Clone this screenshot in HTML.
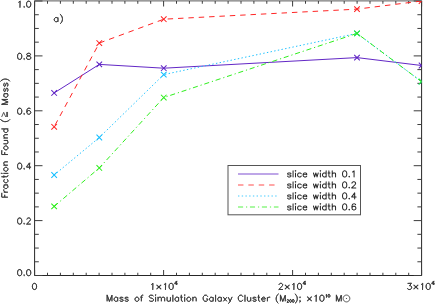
<!DOCTYPE html>
<html><head><meta charset="utf-8"><title>plot</title>
<style>html,body{margin:0;padding:0;background:#fff;font-family:"Liberation Sans",sans-serif}svg{display:block}</style>
</head><body>
<svg width="436" height="304" viewBox="0 0 436 304">
<rect width="436" height="304" fill="#fff"/>
<g stroke="#262626" stroke-width="1" fill="none" stroke-linecap="square">
<path d="M34.60,1V275.50H421.60V1" stroke-linecap="butt"/>
<rect x="34.10" y="0" width="388.00" height="1" fill="#9a9a9a" stroke="none"/>
<rect x="34.10" y="1" width="388.00" height="1" fill="#bdbdbd" stroke="none"/>
<path d="M34.60,275.50v-5.50M34.60,1.00v5.50M47.50,275.50v-2.75M47.50,1.00v2.75M60.40,275.50v-2.75M60.40,1.00v2.75M73.30,275.50v-2.75M73.30,1.00v2.75M86.20,275.50v-2.75M86.20,1.00v2.75M99.10,275.50v-2.75M99.10,1.00v2.75M112.00,275.50v-2.75M112.00,1.00v2.75M124.90,275.50v-2.75M124.90,1.00v2.75M137.80,275.50v-2.75M137.80,1.00v2.75M150.70,275.50v-2.75M150.70,1.00v2.75M163.60,275.50v-5.50M163.60,1.00v5.50M176.50,275.50v-2.75M176.50,1.00v2.75M189.40,275.50v-2.75M189.40,1.00v2.75M202.30,275.50v-2.75M202.30,1.00v2.75M215.20,275.50v-2.75M215.20,1.00v2.75M228.10,275.50v-2.75M228.10,1.00v2.75M241.00,275.50v-2.75M241.00,1.00v2.75M253.90,275.50v-2.75M253.90,1.00v2.75M266.80,275.50v-2.75M266.80,1.00v2.75M279.70,275.50v-2.75M279.70,1.00v2.75M292.60,275.50v-5.50M292.60,1.00v5.50M305.50,275.50v-2.75M305.50,1.00v2.75M318.40,275.50v-2.75M318.40,1.00v2.75M331.30,275.50v-2.75M331.30,1.00v2.75M344.20,275.50v-2.75M344.20,1.00v2.75M357.10,275.50v-2.75M357.10,1.00v2.75M370.00,275.50v-2.75M370.00,1.00v2.75M382.90,275.50v-2.75M382.90,1.00v2.75M395.80,275.50v-2.75M395.80,1.00v2.75M408.70,275.50v-2.75M408.70,1.00v2.75M421.60,275.50v-5.50M421.60,1.00v5.50M34.60,275.50h7.90M421.60,275.50h-7.90M34.60,261.77h4.20M421.60,261.77h-4.20M34.60,248.05h4.20M421.60,248.05h-4.20M34.60,234.32h4.20M421.60,234.32h-4.20M34.60,220.60h7.90M421.60,220.60h-7.90M34.60,206.88h4.20M421.60,206.88h-4.20M34.60,193.15h4.20M421.60,193.15h-4.20M34.60,179.43h4.20M421.60,179.43h-4.20M34.60,165.70h7.90M421.60,165.70h-7.90M34.60,151.97h4.20M421.60,151.97h-4.20M34.60,138.25h4.20M421.60,138.25h-4.20M34.60,124.52h4.20M421.60,124.52h-4.20M34.60,110.80h7.90M421.60,110.80h-7.90M34.60,97.07h4.20M421.60,97.07h-4.20M34.60,83.35h4.20M421.60,83.35h-4.20M34.60,69.62h4.20M421.60,69.62h-4.20M34.60,55.90h7.90M421.60,55.90h-7.90M34.60,42.17h4.20M421.60,42.17h-4.20M34.60,28.45h4.20M421.60,28.45h-4.20M34.60,14.72h4.20M421.60,14.72h-4.20M34.60,1.00h7.90M421.60,1.00h-7.90" stroke-linecap="butt" stroke="#3c3c3c"/>
</g>
<clipPath id="pc"><rect x="34.60" y="1.00" width="387.00" height="274.50"/></clipPath>
<g clip-path="url(#pc)">
<line x1="54.15" y1="92.95" x2="99.30" y2="64.40" stroke="#5e22c4" stroke-width="0.98"/>
<line x1="99.30" y1="64.40" x2="163.75" y2="68.20" stroke="#5e22c4" stroke-width="0.98"/>
<line x1="163.75" y1="68.20" x2="357.00" y2="57.60" stroke="#5e22c4" stroke-width="0.98"/>
<line x1="357.00" y1="57.60" x2="421.60" y2="65.50" stroke="#5e22c4" stroke-width="0.98"/>
<path d="M51.35,90.15l5.60,5.60M51.35,95.75l5.60,-5.60M96.50,61.60l5.60,5.60M96.50,67.20l5.60,-5.60M160.95,65.40l5.60,5.60M160.95,71.00l5.60,-5.60M354.20,54.80l5.60,5.60M354.20,60.40l5.60,-5.60M418.80,62.70l5.60,5.60M418.80,68.30l5.60,-5.60" fill="none" stroke="#5e22c4" stroke-width="1.05"/>
<line x1="54.15" y1="126.80" x2="99.30" y2="43.05" stroke="#ff2020" stroke-width="0.98" stroke-dasharray="5.45,4.92" stroke-dashoffset="8.50"/>
<line x1="99.30" y1="43.05" x2="163.75" y2="19.20" stroke="#ff2020" stroke-width="0.98" stroke-dasharray="5.45,4.92" stroke-dashoffset="10.32"/>
<line x1="163.75" y1="19.20" x2="357.00" y2="9.15" stroke="#ff2020" stroke-width="0.98" stroke-dasharray="5.45,4.92" stroke-dashoffset="6.45"/>
<line x1="357.00" y1="9.15" x2="421.60" y2="1.00" stroke="#ff2020" stroke-width="0.98" stroke-dasharray="5.45,4.92" stroke-dashoffset="2.93"/>
<path d="M51.35,124.00l5.60,5.60M51.35,129.60l5.60,-5.60M96.50,40.25l5.60,5.60M96.50,45.85l5.60,-5.60M160.95,16.40l5.60,5.60M160.95,22.00l5.60,-5.60M354.20,6.35l5.60,5.60M354.20,11.95l5.60,-5.60M418.80,-1.80l5.60,5.60M418.80,3.80l5.60,-5.60" fill="none" stroke="#ff2020" stroke-width="1.05"/>
<line x1="54.15" y1="175.00" x2="99.30" y2="137.50" stroke="#14beff" stroke-width="0.98" stroke-dasharray="1.4,2.32" stroke-dashoffset="0.00"/>
<line x1="99.30" y1="137.50" x2="163.75" y2="74.60" stroke="#14beff" stroke-width="0.98" stroke-dasharray="1.4,2.32" stroke-dashoffset="0.57"/>
<line x1="163.75" y1="74.60" x2="357.00" y2="33.40" stroke="#14beff" stroke-width="0.98" stroke-dasharray="1.4,2.32" stroke-dashoffset="2.40"/>
<line x1="357.00" y1="33.40" x2="421.60" y2="81.70" stroke="#14beff" stroke-width="0.98" stroke-dasharray="1.4,2.32" stroke-dashoffset="1.20"/>
<path d="M51.35,172.20l5.60,5.60M51.35,177.80l5.60,-5.60M96.50,134.70l5.60,5.60M96.50,140.30l5.60,-5.60M160.95,71.80l5.60,5.60M160.95,77.40l5.60,-5.60M354.20,30.60l5.60,5.60M354.20,36.20l5.60,-5.60M418.80,78.90l5.60,5.60M418.80,84.50l5.60,-5.60" fill="none" stroke="#14beff" stroke-width="1.05"/>
<line x1="54.15" y1="206.40" x2="99.30" y2="167.95" stroke="#2aee18" stroke-width="0.98" stroke-dasharray="5.1,2.9,1.2,2.76" stroke-dashoffset="0.00"/>
<line x1="99.30" y1="167.95" x2="163.75" y2="97.55" stroke="#2aee18" stroke-width="0.98" stroke-dasharray="5.1,2.9,1.2,2.76" stroke-dashoffset="1.20"/>
<line x1="163.75" y1="97.55" x2="357.00" y2="33.40" stroke="#2aee18" stroke-width="0.98" stroke-dasharray="5.1,2.9,1.2,2.76" stroke-dashoffset="5.13"/>
<line x1="357.00" y1="33.40" x2="421.60" y2="81.70" stroke="#2aee18" stroke-width="0.98" stroke-dasharray="5.1,2.9,1.2,2.76" stroke-dashoffset="7.30"/>
<path d="M51.35,203.60l5.60,5.60M51.35,209.20l5.60,-5.60M96.50,165.15l5.60,5.60M96.50,170.75l5.60,-5.60M160.95,94.75l5.60,5.60M160.95,100.35l5.60,-5.60M354.20,30.60l5.60,5.60M354.20,36.20l5.60,-5.60M418.80,78.90l5.60,5.60M418.80,84.50l5.60,-5.60" fill="none" stroke="#2aee18" stroke-width="1.05"/>
</g>
<g transform="translate(31.70,275.70) scale(0.3000,0.2900)" fill="none" stroke="#383838" stroke-linejoin="round" stroke-linecap="round">
<path transform="translate(-50.12,0.00) scale(1.000)" d="M25,-2 26,-1 25,0 24,-1ZM25,-2 24,-1 25,0 26,-1ZM38.88,-21 41.12,-21 44.12,-19.88 46,-17 47,-12.25 47,-8.75 46,-4 44,-1 41.12,0 38.88,0 35.88,-1.12 34,-4 33,-8.75 33,-12.25 34,-17 36,-20ZM8.88,-21 11.12,-21 14.12,-19.88 16,-17 17,-12.25 17,-8.75 16,-4 14,-1 11.12,0 8.88,0 5.88,-1.12 4,-4 3,-8.75 3,-12.25 4,-17 6,-20ZM38.88,-21 36,-20 34,-17 33,-12.25 33,-8.75 34,-4 35.88,-1.12 38.88,0 41.12,0 44,-1 46,-4 47,-8.75 47,-12.25 46,-17 44.12,-19.88 41.12,-21ZM8.88,-21 6,-20 4,-17 3,-12.25 3,-8.75 4,-4 5.88,-1.12 8.88,0 11.12,0 14,-1 16,-4 17,-8.75 17,-12.25 16,-17 14.12,-19.88 11.12,-21Z" stroke-width="2.88"/>
</g>
<g transform="translate(31.70,224.10) scale(0.3000,0.2900)" fill="none" stroke="#383838" stroke-linejoin="round" stroke-linecap="round">
<path transform="translate(-50.12,0.00) scale(1.000)" d="M25,-2 26,-1 25,0 24,-1ZM25,-2 24,-1 25,0 26,-1ZM8.88,-21 11.12,-21 14.12,-19.88 16,-17 17,-12.25 17,-8.75 16,-4 14,-1 11.12,0 8.88,0 5.88,-1.12 4,-4 3,-8.75 3,-12.25 4,-17 6,-20ZM38,-21 36,-20 35,-19 34,-17 34,-16 34,-17 35,-19 36,-20 38,-21 42.12,-21 43.88,-20.12 45,-19 46,-17 46,-14.88 45.12,-13.12 43.12,-10.12 33,0 47,0 33.25,0 33.12,-0.12 43.12,-10.12 45.12,-13.12 46,-14.88 46,-17 45,-19 43.88,-20.12 42.12,-21ZM8.88,-21 6,-20 4,-17 3,-12.25 3,-8.75 4,-4 5.88,-1.12 8.88,0 11.12,0 14,-1 16,-4 17,-8.75 17,-12.25 16,-17 14.12,-19.88 11.12,-21Z" stroke-width="2.88"/>
</g>
<g transform="translate(31.70,169.20) scale(0.3000,0.2900)" fill="none" stroke="#383838" stroke-linejoin="round" stroke-linecap="round">
<path transform="translate(-50.12,0.00) scale(1.000)" d="M25,-2 26,-1 25,0 24,-1ZM25,-2 24,-1 25,0 26,-1ZM42.88,-20.75 43,-20.62 43,-7.12 42.88,-7 33.25,-7 33.12,-7.25ZM8.88,-21 11.12,-21 14.12,-19.88 16,-17 17,-12.25 17,-8.75 16,-4 14,-1 11.12,0 8.88,0 5.88,-1.12 4,-4 3,-8.75 3,-12.25 4,-17 6,-20ZM43,-21 33,-7 42.88,-7 43,-6.88 43,0 43,-6.88 43.12,-7 48,-7 43.12,-7 43,-7.12ZM8.88,-21 6,-20 4,-17 3,-12.25 3,-8.75 4,-4 5.88,-1.12 8.88,0 11.12,0 14,-1 16,-4 17,-8.75 17,-12.25 16,-17 14.12,-19.88 11.12,-21Z" stroke-width="2.88"/>
</g>
<g transform="translate(31.70,114.30) scale(0.3000,0.2900)" fill="none" stroke="#383838" stroke-linejoin="round" stroke-linecap="round">
<path transform="translate(-50.12,0.00) scale(1.000)" d="M25,-2 26,-1 25,0 24,-1ZM25,-2 24,-1 25,0 26,-1ZM39.88,-13 41.12,-13 44,-12 46,-10 47,-7.12 47,-5.88 46,-3 44,-1 41.12,0 39.88,0 37,-1 35,-3 34,-6.75 35,-10 37,-12ZM8.88,-21 11.12,-21 14.12,-19.88 16,-17 17,-12.25 17,-8.75 16,-4 14,-1 11.12,0 8.88,0 5.88,-1.12 4,-4 3,-8.75 3,-12.25 4,-17 6,-20ZM39.88,-21 42.12,-21 44.75,-20.12 45.12,-19.75 46,-18 45,-20 42.12,-21 39.88,-21 37,-20 35.12,-17.25 34.88,-16.62 34,-12.25 34,-6.75 35,-3 37,-1 39.88,0 41.12,0 44,-1 46.12,-3.25 47,-5.88 47,-7.12 46,-10 43.75,-12.12 41.12,-13 39.88,-13 37,-12 35,-10 34.12,-7.50 34,-7.62 34,-12.25 35,-17 37,-20ZM8.88,-21 6,-20 4,-17 3,-12.25 3,-8.75 4,-4 5.88,-1.12 8.88,0 11.12,0 14,-1 16,-4 17,-8.75 17,-12.25 16,-17 14.12,-19.88 11.12,-21Z" stroke-width="2.88"/>
</g>
<g transform="translate(31.70,59.40) scale(0.3000,0.2900)" fill="none" stroke="#383838" stroke-linejoin="round" stroke-linecap="round">
<path transform="translate(-50.12,0.00) scale(1.000)" d="M25,-2 26,-1 25,0 24,-1ZM25,-2 24,-1 25,0 26,-1ZM36,-11 39.88,-12.25 40.75,-12.12 44,-11 46,-9 47,-7 47,-3.88 46.12,-2.12 45,-1 42.12,0 37.88,0 35,-1 33.88,-2.12 33,-3.88 33,-7 34,-9ZM34,-18 34.88,-19.75 35.25,-20.12 37.88,-21 42.12,-21 44.75,-20.12 45.12,-19.75 46,-18 46,-15.88 44.88,-13.88 42.75,-12.88 39.88,-12.25 37,-13 35,-14 34,-15.88ZM8.88,-21 11.12,-21 14.12,-19.88 16,-17 17,-12.25 17,-8.75 16,-4 14,-1 11.12,0 8.88,0 5.88,-1.12 4,-4 3,-8.75 3,-12.25 4,-17 6,-20ZM37.88,-21 35,-20 34,-18 34,-15.88 35,-14 37,-13 39.88,-12.25 36,-11 34,-9 33,-7 33,-3.88 33.88,-2.12 35.25,-0.88 37.88,0 42.12,0 45,-1 46.12,-2.12 47,-3.88 47,-7 46,-9 44,-11 40.25,-12.25 43.12,-13 44.88,-13.88 46,-15.88 46,-18 45,-20 42.12,-21ZM8.88,-21 6,-20 4,-17 3,-12.25 3,-8.75 4,-4 5.88,-1.12 8.88,0 11.12,0 14,-1 16,-4 17,-8.75 17,-12.25 16,-17 14.12,-19.88 11.12,-21Z" stroke-width="2.88"/>
</g>
<g transform="translate(31.70,7.30) scale(0.3000,0.2900)" fill="none" stroke="#383838" stroke-linejoin="round" stroke-linecap="round">
<path transform="translate(-50.12,0.00) scale(1.000)" d="M25,-2 26,-1 25,0 24,-1ZM25,-2 24,-1 25,0 26,-1ZM38.88,-21 41.12,-21 44.12,-19.88 46,-17 47,-12.25 47,-8.75 46,-4 44,-1 41.12,0 38.88,0 35.88,-1.12 34,-4 33,-8.75 33,-12.25 34,-17 36,-20ZM38.88,-21 36,-20 34,-17 33,-12.25 33,-8.75 34,-4 35.88,-1.12 38.88,0 41.12,0 44,-1 46,-4 47,-8.75 47,-12.25 46,-17 44.12,-19.88 41.12,-21ZM11,-21 7.88,-17.88 6,-17 7.88,-17.88 10.88,-20.88 11,-20.75 11,0Z" stroke-width="2.88"/>
</g>
<g transform="translate(34.50,289.50) scale(0.3000,0.2900)" fill="none" stroke="#383838" stroke-linejoin="round" stroke-linecap="round">
<path transform="translate(-10.06,0.00) scale(1.000)" d="M8.88,-21 11.12,-21 14.12,-19.88 16,-17 17,-12.25 17,-8.75 16,-4 14,-1 11.12,0 8.88,0 5.88,-1.12 4,-4 3,-8.75 3,-12.25 4,-17 6,-20ZM8.88,-21 6,-20 4,-17 3,-12.25 3,-8.75 4,-4 5.88,-1.12 8.88,0 11.12,0 14,-1 16,-4 17,-8.75 17,-12.25 16,-17 14.12,-19.88 11.12,-21Z" stroke-width="2.88"/>
</g>
<g transform="translate(163.70,289.50) scale(0.3000,0.2900)" fill="none" stroke="#383838" stroke-linejoin="round" stroke-linecap="round">
<path transform="translate(-47.46,0.00) scale(1.000)" d="M11,-21 7.88,-17.88 6,-17 7.88,-17.88 10.88,-20.88 11,-20.75 11,0Z" stroke-width="2.88"/>
<path transform="translate(-27.34,0.00) scale(1.000)" d="M4.4,-15.2L17.8,-1.8M17.8,-15.2L4.4,-1.8" stroke-width="3.75"/>
<path transform="translate(-5.14,0.00) scale(1.000)" d="M28.88,-21 31.12,-21 34.12,-19.88 36,-17 37,-12.25 37,-8.75 36,-4 34,-1 31.12,0 28.88,0 25.88,-1.12 24,-4 23,-8.75 23,-12.25 24,-17 26,-20ZM28.88,-21 26,-20 24,-17 23,-12.25 23,-8.75 24,-4 25.88,-1.12 28.88,0 31.12,0 34,-1 36,-4 37,-8.75 37,-12.25 36,-17 34.12,-19.88 31.12,-21ZM11,-21 7.88,-17.88 6,-17 7.88,-17.88 10.88,-20.88 11,-20.75 11,0Z" stroke-width="2.88"/>
<path transform="translate(34.99,-15.50) scale(0.620)" d="M12.88,-20.75 13,-20.62 13,-7.12 12.88,-7 3.25,-7 3.12,-7.25ZM13,-21 3,-7 12.88,-7 13,-6.88 13,0 13,-6.88 13.12,-7 18,-7 13.12,-7 13,-7.12Z" stroke-width="4.65"/>
</g>
<g transform="translate(292.10,289.50) scale(0.3000,0.2900)" fill="none" stroke="#383838" stroke-linejoin="round" stroke-linecap="round">
<path transform="translate(-47.46,0.00) scale(1.000)" d="M8,-21 6,-20 5,-19 4,-17 4,-16 4,-17 5,-19 6,-20 8,-21 12.12,-21 13.88,-20.12 15,-19 16,-17 16,-14.88 15.12,-13.12 13.12,-10.12 3,0 17,0 3.25,0 3.12,-0.12 13.12,-10.12 15.12,-13.12 16,-14.88 16,-17 15,-19 13.88,-20.12 12.12,-21Z" stroke-width="2.88"/>
<path transform="translate(-27.34,0.00) scale(1.000)" d="M4.4,-15.2L17.8,-1.8M17.8,-15.2L4.4,-1.8" stroke-width="3.75"/>
<path transform="translate(-5.14,0.00) scale(1.000)" d="M28.88,-21 31.12,-21 34.12,-19.88 36,-17 37,-12.25 37,-8.75 36,-4 34,-1 31.12,0 28.88,0 25.88,-1.12 24,-4 23,-8.75 23,-12.25 24,-17 26,-20ZM28.88,-21 26,-20 24,-17 23,-12.25 23,-8.75 24,-4 25.88,-1.12 28.88,0 31.12,0 34,-1 36,-4 37,-8.75 37,-12.25 36,-17 34.12,-19.88 31.12,-21ZM11,-21 7.88,-17.88 6,-17 7.88,-17.88 10.88,-20.88 11,-20.75 11,0Z" stroke-width="2.88"/>
<path transform="translate(34.99,-15.50) scale(0.620)" d="M12.88,-20.75 13,-20.62 13,-7.12 12.88,-7 3.25,-7 3.12,-7.25ZM13,-21 3,-7 12.88,-7 13,-6.88 13,0 13,-6.88 13.12,-7 18,-7 13.12,-7 13,-7.12Z" stroke-width="4.65"/>
</g>
<g transform="translate(435.00,289.50) scale(0.3000,0.2900)" fill="none" stroke="#383838" stroke-linejoin="round" stroke-linecap="round">
<path transform="translate(-94.93,0.00) scale(1.000)" d="M5,-21 15.75,-21 15.88,-20.88 10,-13 13.12,-13 14.88,-12.12 16,-11 17,-8.12 17,-5.88 16.12,-3.25 13.75,-0.88 11.12,0 7.88,0 5,-1 3.88,-2.12 3,-4 3.88,-2.12 5,-1 7.88,0 11.12,0 13.75,-0.88 16,-3 17,-5.88 17,-8.12 16,-11 14.88,-12.12 13.12,-13 10.25,-13 10.12,-13.12 16,-21Z" stroke-width="2.88"/>
<path transform="translate(-74.80,0.00) scale(1.000)" d="M4.4,-15.2L17.8,-1.8M17.8,-15.2L4.4,-1.8" stroke-width="3.75"/>
<path transform="translate(-52.60,0.00) scale(1.000)" d="M28.88,-21 31.12,-21 34.12,-19.88 36,-17 37,-12.25 37,-8.75 36,-4 34,-1 31.12,0 28.88,0 25.88,-1.12 24,-4 23,-8.75 23,-12.25 24,-17 26,-20ZM28.88,-21 26,-20 24,-17 23,-12.25 23,-8.75 24,-4 25.88,-1.12 28.88,0 31.12,0 34,-1 36,-4 37,-8.75 37,-12.25 36,-17 34.12,-19.88 31.12,-21ZM11,-21 7.88,-17.88 6,-17 7.88,-17.88 10.88,-20.88 11,-20.75 11,0Z" stroke-width="2.88"/>
<path transform="translate(-12.48,-15.50) scale(0.620)" d="M12.88,-20.75 13,-20.62 13,-7.12 12.88,-7 3.25,-7 3.12,-7.25ZM13,-21 3,-7 12.88,-7 13,-6.88 13,0 13,-6.88 13.12,-7 18,-7 13.12,-7 13,-7.12Z" stroke-width="4.65"/>
</g>
<g transform="translate(105.90,301.30) scale(0.3030,0.2900)" fill="none" stroke="#383838" stroke-linejoin="round" stroke-linecap="round">
<path transform="translate(0.00,0.00) scale(1.000)" d="M514,-8.12 515,-11 517,-13 519,-14 522.12,-14 523.88,-13.12 525,-12 526,-10 526,-8.12 525.88,-8 514.12,-8ZM374,-14 377.12,-14 378.88,-13.12 381,-11 381,-3 378.88,-0.88 377.12,0 374,0 372,-1 370,-3 369,-5.88 369,-8.12 370,-11 372,-13ZM347,-14 350.12,-14 351.88,-13.12 354,-11 354,-3 351.88,-0.88 350.12,0 347,0 345,-1 343,-3 342,-5.88 342,-8.12 343,-11 345,-13ZM272,-14 275.12,-14 276.88,-13.12 279,-11 280,-8.12 280,-5.88 279,-3 276.88,-0.88 275.12,0 272,0 270,-1 268,-3 267,-5.88 267,-8.12 268,-11 270,-13ZM233,-14 236.12,-14 237.88,-13.12 240,-11 240,-3 237.88,-0.88 236.12,0 233,0 231,-1 229,-3 228,-5.88 228,-8.12 229,-11 231,-13ZM101,-14 104.12,-14 105.88,-13.12 108,-11 109,-8.12 109,-5.88 108,-3 105.88,-0.88 104.12,0 101,0 99,-1 97,-3 96,-5.88 96,-8.12 97,-11 99,-13ZM32,-14 35.12,-14 36.88,-13.12 39,-11 39,-3 36.88,-0.88 35.12,0 32,0 30,-1 28,-3 27,-5.88 27,-8.12 28,-11 30,-13ZM541,-14 538,-14 536,-13 534,-11 533.12,-8.50 533,-8.62 533,-14 533,0 533,-8.12 534,-11 536,-13 538,-14ZM519,-14 517,-13 515,-11 514,-8.12 514,-5.88 515,-3 517,-1 519,0 522.12,0 523.88,-0.88 526,-3 523.88,-0.88 522.12,0 519,0 517,-1 515,-3 514,-5.88 514,-7.88 514.12,-8 526,-8 526,-10 525,-12 523.88,-13.12 522.12,-14ZM486,-13 485,-11 486,-9 488.38,-7.88 493.12,-7 495,-6 496,-4 496,-2.88 495,-1 492.12,0 488.88,0 485.88,-1.12 485,-3 485.88,-1.12 486.25,-0.88 488.88,0 492.12,0 495,-1 496,-2.88 496,-4 494.88,-6.12 493.12,-7 488,-8 486,-9 485,-10.88 485.88,-12.75 486.25,-13.12 488.88,-14 492.12,-14 494.75,-13.12 495.12,-12.75 496,-11 495,-13 492.12,-14 488.88,-14ZM467,-14 467,-3.88 468,-1 470,0 473.12,0 474.88,-0.88 477.88,-3.88 478,-3.75 478,0 478,-14 478,-4 474.88,-0.88 473.12,0 470,0 468.25,-0.88 467.88,-1.25 467,-3.88ZM416,-14 410,-0.12 404,-14 410,0.12 408.12,3.88 405.88,6.12 404.12,7 403,7 404.12,7 405.88,6.12 408.12,3.88 410,0.12ZM388,-14 393.50,-7 388,0 393.50,-7 399,0 393.50,-7 399,-14 393.50,-7ZM372,-13 370,-11 369,-8.12 369,-5.88 370,-3 372,-1 374,0 377.12,0 378.88,-0.88 380.88,-2.88 381,-2.75 381,0 381,-14 381,-11.25 380.88,-11.12 378.88,-13.12 377.12,-14 374,-14ZM345,-13 343,-11 342,-8.12 342,-5.88 343,-3 345,-1 347,0 350.12,0 351.88,-0.88 353.88,-2.88 354,-2.75 354,0 354,-14 354,-11.25 353.88,-11.12 351.88,-13.12 350.12,-14 347,-14ZM287,-14 287,0 287,-10 290,-13 292,-14 295.12,-14 296.88,-13.12 297.12,-12.75 298,-10.12 298,0 298,-10.12 297,-13 295.12,-14 292,-14 290,-13 287.12,-10.12 287,-10.25ZM272,-14 270,-13 268,-11 267,-8.12 267,-5.88 268,-3 270,-1 272,0 275.12,0 276.88,-0.88 279,-3 280,-5.88 280,-8.12 279,-11 276.88,-13.12 275.12,-14ZM260,-14 260,0ZM231,-13 229,-11 228,-8.12 228,-5.88 229,-3 231,-1 233,0 236.12,0 237.88,-0.88 239.88,-2.88 240,-2.75 240,0 240,-14 240,-11.25 239.88,-11.12 237.88,-13.12 236.12,-14 233,-14ZM202,-14 202,-3.88 203,-1 205,0 208.12,0 209.88,-0.88 212.88,-3.88 213,-3.75 213,0 213,-14 213,-4 209.88,-0.88 208.12,0 205,0 203.25,-0.88 202.88,-1.25 202,-3.88ZM172,-14 172,0 172,-10 175,-13 177,-14 180.12,-14 181.88,-13.12 182.12,-12.75 183,-10.12 183,0 183,-10 186,-13 188,-14 191.12,-14 192.88,-13.12 194,-10.12 194,0 194,-10.12 192.88,-13.12 191.12,-14 188,-14 186,-13 183,-10.12 181.88,-13.12 180.12,-14 177,-14 175,-13 172.12,-10.12 172,-10.25ZM164,-14 164,0ZM101,-14 99,-13 97,-11 96,-8.12 96,-5.88 97,-3 99,-1 101,0 104.12,0 105.88,-0.88 108,-3 109,-5.88 109,-8.12 108,-11 105.88,-13.12 104.12,-14ZM64,-13 63,-11 64,-9 66.38,-7.88 71.12,-7 73,-6 74,-4 74,-2.88 73,-1 70.12,0 66.88,0 63.88,-1.12 63,-3 63.88,-1.12 64.25,-0.88 66.88,0 70.12,0 73,-1 74,-2.88 74,-4 72.88,-6.12 71.12,-7 66,-8 64,-9 63,-10.88 63.88,-12.75 64.25,-13.12 66.88,-14 70.12,-14 72.75,-13.12 73.12,-12.75 74,-11 73,-13 70.12,-14 66.88,-14ZM47,-13 46,-11 47,-9 49.38,-7.88 54.12,-7 56,-6 57,-4 57,-2.88 56,-1 53.12,0 49.88,0 46.88,-1.12 46,-3 46.88,-1.12 47.25,-0.88 49.88,0 53.12,0 56,-1 57,-2.88 57,-4 55.88,-6.12 54.12,-7 49,-8 47,-9 46,-10.88 46.88,-12.75 47.25,-13.12 49.88,-14 53.12,-14 55.75,-13.12 56.12,-12.75 57,-11 56,-13 53.12,-14 49.88,-14ZM30,-13 28,-11 27,-8.12 27,-5.88 28,-3 30,-1 32,0 35.12,0 36.88,-0.88 38.88,-2.88 39,-2.75 39,0 39,-14 39,-11.25 38.88,-11.12 36.88,-13.12 35.12,-14 32,-14ZM576,-21 576,0 576,-20.50 576.12,-20.62 584,0 591.88,-20.62 592,-20.50 592,0 592,-21 584,-0.12ZM504,-21 504,-14.12 503.88,-14 501,-14 503.88,-14 504,-13.88 504,-3.88 505,-1 507,0 509,0 507,0 505.25,-0.88 504.88,-1.25 504,-3.88 504,-13.88 504.12,-14 508,-14 504.12,-14 504,-14.12ZM459,-21 459,0ZM443,-21 447.12,-21 448.88,-20.12 451,-18 452,-16 451,-18 448.88,-20.12 447.12,-21 443,-21 441,-20 439,-18 437.88,-15.75 437,-13.12 437,-7.88 438,-4.88 438.88,-3.12 441,-1 443,0 447.12,0 448.88,-0.88 451.12,-3.12 452,-5 451.12,-3.12 448.88,-0.88 447.12,0 443,0 441,-1 438.88,-3.12 438,-4.88 437,-7.88 437,-13.12 437.88,-15.75 439,-18 441,-20ZM362,-21 362,0ZM327,-21 331.12,-21 332.88,-20.12 335,-18 336,-16 335,-18 332.88,-20.12 331.12,-21 327,-21 325,-20 323,-18 321.88,-15.75 321,-13.12 321,-7.88 322,-4.88 322.88,-3.12 325,-1 327,0 331.12,0 332.88,-0.88 335.12,-3.12 336,-4.88 336,-8 331,-8 335.88,-8 336,-7.88 336,-4.88 335.12,-3.12 332.88,-0.88 331.12,0 327,0 325,-1 322.88,-3.12 322,-4.88 321,-7.88 321,-13.12 321.88,-15.75 323,-18 325,-20ZM249,-21 249,-14.12 248.88,-14 246,-14 248.88,-14 249,-13.88 249,-3.88 250,-1 252,0 254,0 252,0 250.25,-0.88 249.88,-1.25 249,-3.88 249,-13.88 249.12,-14 253,-14 249.12,-14 249,-14.12ZM221,-21 221,0ZM147.88,-21 152.12,-21 155,-20 157,-18 155,-20 152.12,-21 147.88,-21 145,-20 143,-18 143,-15.88 143.88,-14.12 145,-13 147.25,-11.88 153.12,-10 154.88,-9.12 156,-8 157,-6 157,-3 155,-1 152.12,0 147.88,0 145,-1 143,-3 145,-1 147.88,0 152.12,0 155,-1 157,-3 157,-6 156,-8 154.88,-9.12 153.12,-10 147.25,-11.88 145,-13 143.88,-14.12 143,-15.88 143,-18 145,-20ZM122,-21 120,-21 118,-20 117,-17.12 117,-14.12 116.88,-14 114,-14 116.88,-14 117,-13.88 117,0 117,-13.88 117.12,-14 121,-14 117.12,-14 117,-14.12 117,-17.12 117.88,-19.75 118.25,-20.12 120,-21ZM4,-21 4,0 4,-20.50 4.12,-20.62 12,0 19.88,-20.62 20,-20.50 20,0 20,-21 12,-0.12ZM260,-22 261,-21 260,-20 259,-21ZM164,-22 165,-21 164,-20 163,-21ZM260,-22 259,-21 260,-20 261,-21ZM164,-22 163,-21 164,-20 165,-21ZM569,-25 566.88,-22.88 565.12,-20.25 563,-16 562,-11.25 562,-6.75 563,-1.88 564.88,1.88 566.88,4.88 569,7 566.88,4.88 564.88,1.88 563,-1.88 562,-6.75 562,-11.25 563,-16 565.12,-20.25 566.88,-22.88Z" stroke-width="2.87"/>
<path transform="translate(596.12,3.50) scale(0.440)" d="M48.88,-21 51.12,-21 54.12,-19.88 56,-17 57,-12.25 57,-8.75 56,-4 54,-1 51.12,0 48.88,0 45.88,-1.12 44,-4 43,-8.75 43,-12.25 44,-17 46,-20ZM28.88,-21 31.12,-21 34.12,-19.88 36,-17 37,-12.25 37,-8.75 36,-4 34,-1 31.12,0 28.88,0 25.88,-1.12 24,-4 23,-8.75 23,-12.25 24,-17 26,-20ZM48.88,-21 46,-20 44,-17 43,-12.25 43,-8.75 44,-4 45.88,-1.12 48.88,0 51.12,0 54,-1 56,-4 57,-8.75 57,-12.25 56,-17 54.12,-19.88 51.12,-21ZM28.88,-21 26,-20 24,-17 23,-12.25 23,-8.75 24,-4 25.88,-1.12 28.88,0 31.12,0 34,-1 36,-4 37,-8.75 37,-12.25 36,-17 34.12,-19.88 31.12,-21ZM8,-21 6,-20 5,-19 4,-17 4,-16 4,-17 5,-19 6,-20 8,-21 12.12,-21 13.88,-20.12 15,-19 16,-17 16,-14.88 15.12,-13.12 13.12,-10.12 3,0 17,0 3.25,0 3.12,-0.12 13.12,-10.12 15.12,-13.12 16,-14.88 16,-17 15,-19 13.88,-20.12 12.12,-21Z" stroke-width="6.52"/>
<path transform="translate(621.58,0.00) scale(1.000)" d="M19,-2 20,-1 19,0 18,-1ZM19,-2 18,-1 19,0 19.88,-0.88 20,-0.75 20,1.12 19.12,2.88 18,4 19.12,2.88 20,1.12 20,-1ZM19,-14 20,-13 19,-12 18,-13ZM19,-14 18,-13 19,-12 20,-13ZM3,-25 5.12,-22.88 6.88,-20.25 9,-16 10,-11.25 10,-6.75 9,-1.88 7.12,1.88 5.12,4.88 3,7 5.12,4.88 7.12,1.88 9,-1.88 10,-6.75 10,-11.25 9,-16 6.88,-20.25 5.12,-22.88Z" stroke-width="2.87"/>
<path transform="translate(660.71,0.00) scale(1.000)" d="M4.4,-15.2L17.8,-1.8M17.8,-15.2L4.4,-1.8" stroke-width="3.73"/>
<path transform="translate(682.91,0.00) scale(1.000)" d="M28.88,-21 31.12,-21 34.12,-19.88 36,-17 37,-12.25 37,-8.75 36,-4 34,-1 31.12,0 28.88,0 25.88,-1.12 24,-4 23,-8.75 23,-12.25 24,-17 26,-20ZM28.88,-21 26,-20 24,-17 23,-12.25 23,-8.75 24,-4 25.88,-1.12 28.88,0 31.12,0 34,-1 36,-4 37,-8.75 37,-12.25 36,-17 34.12,-19.88 31.12,-21ZM11,-21 7.88,-17.88 6,-17 7.88,-17.88 10.88,-20.88 11,-20.75 11,0Z" stroke-width="2.87"/>
<path transform="translate(723.03,-14.00) scale(0.440)" d="M28.88,-21 31.12,-21 34.12,-19.88 36,-17 37,-12.25 37,-8.75 36,-4 34,-1 31.12,0 28.88,0 25.88,-1.12 24,-4 23,-8.75 23,-12.25 24,-17 26,-20ZM28.88,-21 26,-20 24,-17 23,-12.25 23,-8.75 24,-4 25.88,-1.12 28.88,0 31.12,0 34,-1 36,-4 37,-8.75 37,-12.25 36,-17 34.12,-19.88 31.12,-21ZM11,-21 7.88,-17.88 6,-17 7.88,-17.88 10.88,-20.88 11,-20.75 11,0Z" stroke-width="6.52"/>
<path transform="translate(740.69,0.00) scale(1.000)" d="M20,-21 20,0 20,-20.50 20.12,-20.62 28,0 35.88,-20.62 36,-20.50 36,0 36,-21 28,-0.12Z" stroke-width="2.87"/>
<path transform="translate(780.81,0.00) scale(1.000)" d="M24.20,-9.70 23.83,-6.65 22.73,-3.80 20.98,-1.36 18.70,0.52 16.05,1.70 13.20,2.10 10.35,1.70 7.70,0.52 5.42,-1.36 3.67,-3.80 2.57,-6.65 2.20,-9.70 2.57,-12.75 3.67,-15.60 5.42,-18.04 7.70,-19.92 10.35,-21.10 13.20,-21.50 16.05,-21.10 18.70,-19.92 20.98,-18.04 22.73,-15.60 23.83,-12.75ZM12.7,-9.7L13.7,-9.7" stroke-width="2.87"/>
</g>
<g transform="translate(7.90,198.40) rotate(-90) scale(0.3035,0.2900)" fill="none" stroke="#383838" stroke-linejoin="round" stroke-linecap="round">
<path transform="translate(0.00,0.00) scale(1.000)" d="M17,-21 4,-21 4,0 4,-10.88 4.12,-11 12,-11 4.12,-11 4,-11.12 4,-20.88 4.12,-21Z" stroke-width="2.86"/>
<path transform="translate(16.43,0.00) scale(1.000)" d="M78,-14 81.12,-14 82.88,-13.12 85,-11 86,-8.12 86,-5.88 85,-3 82.88,-0.88 81.12,0 78,0 76,-1 74,-3 73,-5.88 73,-8.12 74,-11 76,-13ZM21,-14 24.12,-14 25.88,-13.12 28,-11 28,-3 25.88,-0.88 24.12,0 21,0 19,-1 17,-3 16,-5.88 16,-8.12 17,-11 19,-13ZM93,-14 93,0 93,-10 96,-13 98,-14 101.12,-14 102.88,-13.12 103.12,-12.75 104,-10.12 104,0 104,-10.12 103,-13 101.12,-14 98,-14 96,-13 93.12,-10.12 93,-10.25ZM78,-14 76,-13 74,-11 73,-8.12 73,-5.88 74,-3 76,-1 78,0 81.12,0 82.88,-0.88 85,-3 86,-5.88 86,-8.12 85,-11 82.88,-13.12 81.12,-14ZM66,-14 66,0ZM40,-14 43.12,-14 44.88,-13.12 47,-11 44.88,-13.12 43.12,-14 40,-14 38,-13 36,-11 35,-8.12 35,-5.88 36,-3 38,-1 40,0 43.12,0 44.88,-0.88 47,-3 44.88,-0.88 43.12,0 40,0 38,-1 36,-3 35,-5.88 35,-8.12 36,-11 38,-13ZM19,-13 17,-11 16,-8.12 16,-5.88 17,-3 19,-1 21,0 24.12,0 25.88,-0.88 27.88,-2.88 28,-2.75 28,0 28,-14 28,-11.25 27.88,-11.12 25.88,-13.12 24.12,-14 21,-14ZM12,-14 9,-14 7,-13 5,-11 4.12,-8.50 4,-8.62 4,-14 4,0 4,-8.12 5,-11 7,-13 9,-14ZM55,-21 55,-14.12 54.88,-14 52,-14 54.88,-14 55,-13.88 55,-3.88 56,-1 58,0 60,0 58,0 56.25,-0.88 55.88,-1.25 55,-3.88 55,-13.88 55.12,-14 59,-14 55.12,-14 55,-14.12ZM66,-22 67,-21 66,-20 65,-21ZM66,-22 65,-21 66,-20 67,-21Z" stroke-width="2.86"/>
<path transform="translate(140.55,0.00) scale(1.000)" d="M17,-21 4,-21 4,0 4,-10.88 4.12,-11 12,-11 4.12,-11 4,-11.12 4,-20.88 4.12,-21Z" stroke-width="2.86"/>
<path transform="translate(156.98,0.00) scale(1.000)" d="M65,-14 68.12,-14 69.88,-13.12 72,-11 72,-3 69.88,-0.88 68.12,0 65,0 63,-1 61,-3 60,-5.88 60,-8.12 61,-11 63,-13ZM8,-14 11.12,-14 12.88,-13.12 15,-11 16,-8.12 16,-5.88 15,-3 12.88,-0.88 11.12,0 8,0 6,-1 4,-3 3,-5.88 3,-8.12 4,-11 6,-13ZM42,-14 42,0 42,-10 45,-13 47,-14 50.12,-14 51.88,-13.12 52.12,-12.75 53,-10.12 53,0 53,-10.12 52,-13 50.12,-14 47,-14 45,-13 42.12,-10.12 42,-10.25ZM23,-14 23,-3.88 24,-1 26,0 29.12,0 30.88,-0.88 33.88,-3.88 34,-3.75 34,0 34,-14 34,-4 30.88,-0.88 29.12,0 26,0 24.25,-0.88 23.88,-1.25 23,-3.88ZM8,-14 6,-13 4,-11 3,-8.12 3,-5.88 4,-3 6,-1 8,0 11.12,0 12.88,-0.88 15,-3 16,-5.88 16,-8.12 15,-11 12.88,-13.12 11.12,-14ZM72,-21 72,-11.25 71.88,-11.12 69.88,-13.12 68.12,-14 65,-14 63,-13 60.88,-10.75 60,-8.12 60,-5.88 60.88,-3.25 63,-1 65,0 68.12,0 69.88,-0.88 71.88,-2.88 72,-2.75 72,0ZM103,-25 100.88,-22.88 99.12,-20.25 97,-16 96,-11.25 96,-6.75 97,-1.88 98.88,1.88 100.88,4.88 103,7 100.88,4.88 98.88,1.88 97,-1.88 96,-6.75 96,-11.25 97,-16 99.12,-20.25 100.88,-22.88Z" stroke-width="2.86"/>
</g>
<g transform="translate(7.90,116.60) rotate(-90) scale(0.3040,0.2900)" fill="none" stroke="#383838" stroke-linejoin="round" stroke-linecap="round">
<path transform="translate(0.00,0.00) scale(1.000)" d="M0,-21L14,-14.5L0,-8M0,-4.3L14,-4.3M0,-1.3L14,-1.3" stroke-width="2.86"/>
</g>
<g transform="translate(7.90,110.40) rotate(-90) scale(0.3040,0.2900)" fill="none" stroke="#383838" stroke-linejoin="round" stroke-linecap="round">
<path transform="translate(0.00,0.00) scale(1.000)" d="M48,-14 51.12,-14 52.88,-13.12 55,-11 55,-3 52.88,-0.88 51.12,0 48,0 46,-1 44,-3 43,-5.88 43,-8.12 44,-11 46,-13ZM80,-13 79,-11 80,-9 82.38,-7.88 87.12,-7 89,-6 90,-4 90,-2.88 89,-1 86.12,0 82.88,0 79.88,-1.12 79,-3 79.88,-1.12 80.25,-0.88 82.88,0 86.12,0 89,-1 90,-2.88 90,-4 88.88,-6.12 87.12,-7 82,-8 80,-9 79,-10.88 79.88,-12.75 80.25,-13.12 82.88,-14 86.12,-14 88.75,-13.12 89.12,-12.75 90,-11 89,-13 86.12,-14 82.88,-14ZM63,-13 62,-11 63,-9 65.38,-7.88 70.12,-7 72,-6 73,-4 73,-2.88 72,-1 69.12,0 65.88,0 62.88,-1.12 62,-3 62.88,-1.12 63.25,-0.88 65.88,0 69.12,0 72,-1 73,-2.88 73,-4 71.88,-6.12 70.12,-7 65,-8 63,-9 62,-10.88 62.88,-12.75 63.25,-13.12 65.88,-14 69.12,-14 71.75,-13.12 72.12,-12.75 73,-11 72,-13 69.12,-14 65.88,-14ZM46,-13 44,-11 43,-8.12 43,-5.88 44,-3 46,-1 48,0 51.12,0 52.88,-0.88 54.88,-2.88 55,-2.75 55,0 55,-14 55,-11.25 54.88,-11.12 52.88,-13.12 51.12,-14 48,-14ZM20,-21 20,0 20,-20.50 20.12,-20.62 28,0 35.88,-20.62 36,-20.50 36,0 36,-21 28,-0.12ZM96,-25 98.12,-22.88 99.88,-20.25 102,-16 103,-11.25 103,-6.75 102,-1.88 100.12,1.88 98.12,4.88 96,7 98.12,4.88 100.12,1.88 102,-1.88 103,-6.75 103,-11.25 102,-16 99.88,-20.25 98.12,-22.88Z" stroke-width="2.86"/>
</g>
<g transform="translate(53.30,21.70) scale(0.3150,0.2950)" fill="none" stroke="#383838" stroke-linejoin="round" stroke-linecap="round">
<path transform="translate(0.00,0.00) scale(1.000)" d="M8,-14 11.12,-14 12.88,-13.12 15,-11 15,-3 12.88,-0.88 11.12,0 8,0 6,-1 4,-3 3,-5.88 3,-8.12 4,-11 6,-13ZM6,-13 4,-11 3,-8.12 3,-5.88 4,-3 6,-1 8,0 11.12,0 12.88,-0.88 14.88,-2.88 15,-2.75 15,0 15,-14 15,-11.25 14.88,-11.12 12.88,-13.12 11.12,-14 8,-14ZM22,-25 24.12,-22.88 25.88,-20.25 28,-16 29,-11.25 29,-6.75 28,-1.88 26.12,1.88 24.12,4.88 22,7 24.12,4.88 26.12,1.88 28,-1.88 29,-6.75 29,-11.25 28,-16 25.88,-20.25 24.12,-22.88Z" stroke-width="2.79"/>
</g>
<rect x="228.00" y="165.50" width="132.50" height="49.30" fill="none" stroke="#555" stroke-width="1"/>
<line x1="238" y1="174.00" x2="278.5" y2="174.00" stroke="#5e22c4" stroke-width="1" stroke-opacity="0.8"/>
<g transform="translate(286.70,176.95) scale(0.3035,0.2900)" fill="none" stroke="#262626" stroke-linejoin="round" stroke-linecap="round">
<path transform="translate(0.00,0.00) scale(1.000)" d="M206,-2 207,-1 206,0 205,-1ZM206,-2 205,-1 206,0 207,-1ZM123,-14 126.12,-14 127.88,-13.12 130,-11 130,-3 127.88,-0.88 126.12,0 123,0 121,-1 119,-3 118,-5.88 118,-8.12 119,-11 121,-13ZM54,-8.12 55,-11 57,-13 59,-14 62.12,-14 63.88,-13.12 65,-12 66,-10 66,-8.12 65.88,-8 54.12,-8ZM111,-14 111,0ZM88,-14 92,0 96,-13.88 100,0 104,-14 100,-0.12 96,-14 92.12,-0.25 92,-0.12 91.88,-0.25ZM59,-14 57,-13 55,-11 54,-8.12 54,-5.88 55,-3 57,-1 59,0 62.12,0 63.88,-0.88 66,-3 63.88,-0.88 62.12,0 59,0 57,-1 55,-3 54,-5.88 54,-7.88 54.12,-8 66,-8 66,-10 65,-12 63.88,-13.12 62.12,-14ZM41,-14 44.12,-14 45.88,-13.12 48,-11 45.88,-13.12 44.12,-14 41,-14 39,-13 37,-11 36,-8.12 36,-5.88 37,-3 39,-1 41,0 44.12,0 45.88,-0.88 48,-3 45.88,-0.88 44.12,0 41,0 39,-1 37,-3 36,-5.88 36,-8.12 37,-11 39,-13ZM29,-14 29,0ZM4,-13 3,-11 4,-9 6.38,-7.88 11.12,-7 13,-6 14,-4 14,-2.88 13,-1 10.12,0 6.88,0 3.88,-1.12 3,-3 3.88,-1.12 4.25,-0.88 6.88,0 10.12,0 13,-1 14,-2.88 14,-4 12.88,-6.12 11.12,-7 6,-8 4,-9 3,-10.88 3.88,-12.75 4.25,-13.12 6.88,-14 10.12,-14 12.75,-13.12 13.12,-12.75 14,-11 13,-13 10.12,-14 6.88,-14ZM189.88,-21 192.12,-21 195.12,-19.88 197,-17 198,-12.25 198,-8.75 197,-4 195,-1 192.12,0 189.88,0 186.88,-1.12 185,-4 184,-8.75 184,-12.25 185,-17 187,-20ZM222,-21 218.88,-17.88 217,-17 218.88,-17.88 221.88,-20.88 222,-20.75 222,0ZM189.88,-21 187,-20 185,-17 184,-12.25 184,-8.75 185,-4 186.88,-1.12 189.88,0 192.12,0 195,-1 197,-4 198,-8.75 198,-12.25 197,-17 195.12,-19.88 192.12,-21ZM150,-21 150,0 150,-10 153,-13 155,-14 158.12,-14 159.88,-13.12 160.12,-12.75 161,-10.12 161,0 161,-10.12 160,-13 158.12,-14 155,-14 153,-13 150.12,-10.12 150,-10.25ZM139,-21 139,-14.12 138.88,-14 136,-14 138.88,-14 139,-13.88 139,-3.88 140,-1 142,0 144,0 142,0 140.25,-0.88 139.88,-1.25 139,-3.88 139,-13.88 139.12,-14 143,-14 139.12,-14 139,-14.12ZM130,-21 130,-11.25 129.88,-11.12 127.88,-13.12 126.12,-14 123,-14 121,-13 118.88,-10.75 118,-8.12 118,-5.88 118.88,-3.25 121,-1 123,0 126.12,0 127.88,-0.88 129.88,-2.88 130,-2.75 130,0ZM21,-21 21,0ZM111,-22 112,-21 111,-20 110,-21ZM29,-22 30,-21 29,-20 28,-21ZM111,-22 110,-21 111,-20 112,-21ZM29,-22 28,-21 29,-20 30,-21Z" stroke-width="3.37"/>
</g>
<line x1="238" y1="185.00" x2="278.5" y2="185.00" stroke="#ff2020" stroke-width="1" stroke-opacity="0.8" stroke-dasharray="5.45,4.92"/>
<g transform="translate(286.70,187.95) scale(0.3035,0.2900)" fill="none" stroke="#262626" stroke-linejoin="round" stroke-linecap="round">
<path transform="translate(0.00,0.00) scale(1.000)" d="M206,-2 207,-1 206,0 205,-1ZM206,-2 205,-1 206,0 207,-1ZM123,-14 126.12,-14 127.88,-13.12 130,-11 130,-3 127.88,-0.88 126.12,0 123,0 121,-1 119,-3 118,-5.88 118,-8.12 119,-11 121,-13ZM54,-8.12 55,-11 57,-13 59,-14 62.12,-14 63.88,-13.12 65,-12 66,-10 66,-8.12 65.88,-8 54.12,-8ZM111,-14 111,0ZM88,-14 92,0 96,-13.88 100,0 104,-14 100,-0.12 96,-14 92.12,-0.25 92,-0.12 91.88,-0.25ZM59,-14 57,-13 55,-11 54,-8.12 54,-5.88 55,-3 57,-1 59,0 62.12,0 63.88,-0.88 66,-3 63.88,-0.88 62.12,0 59,0 57,-1 55,-3 54,-5.88 54,-7.88 54.12,-8 66,-8 66,-10 65,-12 63.88,-13.12 62.12,-14ZM41,-14 44.12,-14 45.88,-13.12 48,-11 45.88,-13.12 44.12,-14 41,-14 39,-13 37,-11 36,-8.12 36,-5.88 37,-3 39,-1 41,0 44.12,0 45.88,-0.88 48,-3 45.88,-0.88 44.12,0 41,0 39,-1 37,-3 36,-5.88 36,-8.12 37,-11 39,-13ZM29,-14 29,0ZM4,-13 3,-11 4,-9 6.38,-7.88 11.12,-7 13,-6 14,-4 14,-2.88 13,-1 10.12,0 6.88,0 3.88,-1.12 3,-3 3.88,-1.12 4.25,-0.88 6.88,0 10.12,0 13,-1 14,-2.88 14,-4 12.88,-6.12 11.12,-7 6,-8 4,-9 3,-10.88 3.88,-12.75 4.25,-13.12 6.88,-14 10.12,-14 12.75,-13.12 13.12,-12.75 14,-11 13,-13 10.12,-14 6.88,-14ZM189.88,-21 192.12,-21 195.12,-19.88 197,-17 198,-12.25 198,-8.75 197,-4 195,-1 192.12,0 189.88,0 186.88,-1.12 185,-4 184,-8.75 184,-12.25 185,-17 187,-20ZM219,-21 217,-20 216,-19 215,-17 215,-16 215,-17 216,-19 217,-20 219,-21 223.12,-21 224.88,-20.12 226,-19 227,-17 227,-14.88 226.12,-13.12 224.12,-10.12 214,0 228,0 214.25,0 214.12,-0.12 224.12,-10.12 226.12,-13.12 227,-14.88 227,-17 226,-19 224.88,-20.12 223.12,-21ZM189.88,-21 187,-20 185,-17 184,-12.25 184,-8.75 185,-4 186.88,-1.12 189.88,0 192.12,0 195,-1 197,-4 198,-8.75 198,-12.25 197,-17 195.12,-19.88 192.12,-21ZM150,-21 150,0 150,-10 153,-13 155,-14 158.12,-14 159.88,-13.12 160.12,-12.75 161,-10.12 161,0 161,-10.12 160,-13 158.12,-14 155,-14 153,-13 150.12,-10.12 150,-10.25ZM139,-21 139,-14.12 138.88,-14 136,-14 138.88,-14 139,-13.88 139,-3.88 140,-1 142,0 144,0 142,0 140.25,-0.88 139.88,-1.25 139,-3.88 139,-13.88 139.12,-14 143,-14 139.12,-14 139,-14.12ZM130,-21 130,-11.25 129.88,-11.12 127.88,-13.12 126.12,-14 123,-14 121,-13 118.88,-10.75 118,-8.12 118,-5.88 118.88,-3.25 121,-1 123,0 126.12,0 127.88,-0.88 129.88,-2.88 130,-2.75 130,0ZM21,-21 21,0ZM111,-22 112,-21 111,-20 110,-21ZM29,-22 30,-21 29,-20 28,-21ZM111,-22 110,-21 111,-20 112,-21ZM29,-22 28,-21 29,-20 30,-21Z" stroke-width="3.37"/>
</g>
<line x1="238" y1="196.00" x2="278.5" y2="196.00" stroke="#14beff" stroke-width="1" stroke-opacity="0.8" stroke-dasharray="1.4,2.32"/>
<g transform="translate(286.70,198.95) scale(0.3035,0.2900)" fill="none" stroke="#262626" stroke-linejoin="round" stroke-linecap="round">
<path transform="translate(0.00,0.00) scale(1.000)" d="M206,-2 207,-1 206,0 205,-1ZM206,-2 205,-1 206,0 207,-1ZM123,-14 126.12,-14 127.88,-13.12 130,-11 130,-3 127.88,-0.88 126.12,0 123,0 121,-1 119,-3 118,-5.88 118,-8.12 119,-11 121,-13ZM54,-8.12 55,-11 57,-13 59,-14 62.12,-14 63.88,-13.12 65,-12 66,-10 66,-8.12 65.88,-8 54.12,-8ZM111,-14 111,0ZM88,-14 92,0 96,-13.88 100,0 104,-14 100,-0.12 96,-14 92.12,-0.25 92,-0.12 91.88,-0.25ZM59,-14 57,-13 55,-11 54,-8.12 54,-5.88 55,-3 57,-1 59,0 62.12,0 63.88,-0.88 66,-3 63.88,-0.88 62.12,0 59,0 57,-1 55,-3 54,-5.88 54,-7.88 54.12,-8 66,-8 66,-10 65,-12 63.88,-13.12 62.12,-14ZM41,-14 44.12,-14 45.88,-13.12 48,-11 45.88,-13.12 44.12,-14 41,-14 39,-13 37,-11 36,-8.12 36,-5.88 37,-3 39,-1 41,0 44.12,0 45.88,-0.88 48,-3 45.88,-0.88 44.12,0 41,0 39,-1 37,-3 36,-5.88 36,-8.12 37,-11 39,-13ZM29,-14 29,0ZM4,-13 3,-11 4,-9 6.38,-7.88 11.12,-7 13,-6 14,-4 14,-2.88 13,-1 10.12,0 6.88,0 3.88,-1.12 3,-3 3.88,-1.12 4.25,-0.88 6.88,0 10.12,0 13,-1 14,-2.88 14,-4 12.88,-6.12 11.12,-7 6,-8 4,-9 3,-10.88 3.88,-12.75 4.25,-13.12 6.88,-14 10.12,-14 12.75,-13.12 13.12,-12.75 14,-11 13,-13 10.12,-14 6.88,-14ZM223.88,-20.75 224,-20.62 224,-7.12 223.88,-7 214.25,-7 214.12,-7.25ZM189.88,-21 192.12,-21 195.12,-19.88 197,-17 198,-12.25 198,-8.75 197,-4 195,-1 192.12,0 189.88,0 186.88,-1.12 185,-4 184,-8.75 184,-12.25 185,-17 187,-20ZM224,-21 214,-7 223.88,-7 224,-6.88 224,0 224,-6.88 224.12,-7 229,-7 224.12,-7 224,-7.12ZM189.88,-21 187,-20 185,-17 184,-12.25 184,-8.75 185,-4 186.88,-1.12 189.88,0 192.12,0 195,-1 197,-4 198,-8.75 198,-12.25 197,-17 195.12,-19.88 192.12,-21ZM150,-21 150,0 150,-10 153,-13 155,-14 158.12,-14 159.88,-13.12 160.12,-12.75 161,-10.12 161,0 161,-10.12 160,-13 158.12,-14 155,-14 153,-13 150.12,-10.12 150,-10.25ZM139,-21 139,-14.12 138.88,-14 136,-14 138.88,-14 139,-13.88 139,-3.88 140,-1 142,0 144,0 142,0 140.25,-0.88 139.88,-1.25 139,-3.88 139,-13.88 139.12,-14 143,-14 139.12,-14 139,-14.12ZM130,-21 130,-11.25 129.88,-11.12 127.88,-13.12 126.12,-14 123,-14 121,-13 118.88,-10.75 118,-8.12 118,-5.88 118.88,-3.25 121,-1 123,0 126.12,0 127.88,-0.88 129.88,-2.88 130,-2.75 130,0ZM21,-21 21,0ZM111,-22 112,-21 111,-20 110,-21ZM29,-22 30,-21 29,-20 28,-21ZM111,-22 110,-21 111,-20 112,-21ZM29,-22 28,-21 29,-20 30,-21Z" stroke-width="3.37"/>
</g>
<line x1="238" y1="207.00" x2="278.5" y2="207.00" stroke="#2aee18" stroke-width="1" stroke-opacity="0.8" stroke-dasharray="5.1,2.9,1.2,2.76"/>
<g transform="translate(286.70,209.95) scale(0.3035,0.2900)" fill="none" stroke="#262626" stroke-linejoin="round" stroke-linecap="round">
<path transform="translate(0.00,0.00) scale(1.000)" d="M206,-2 207,-1 206,0 205,-1ZM206,-2 205,-1 206,0 207,-1ZM220.88,-13 222.12,-13 225,-12 227,-10 228,-7.12 228,-5.88 227,-3 225,-1 222.12,0 220.88,0 218,-1 216,-3 215,-6.75 216,-10 218,-12ZM123,-14 126.12,-14 127.88,-13.12 130,-11 130,-3 127.88,-0.88 126.12,0 123,0 121,-1 119,-3 118,-5.88 118,-8.12 119,-11 121,-13ZM54,-8.12 55,-11 57,-13 59,-14 62.12,-14 63.88,-13.12 65,-12 66,-10 66,-8.12 65.88,-8 54.12,-8ZM111,-14 111,0ZM88,-14 92,0 96,-13.88 100,0 104,-14 100,-0.12 96,-14 92.12,-0.25 92,-0.12 91.88,-0.25ZM59,-14 57,-13 55,-11 54,-8.12 54,-5.88 55,-3 57,-1 59,0 62.12,0 63.88,-0.88 66,-3 63.88,-0.88 62.12,0 59,0 57,-1 55,-3 54,-5.88 54,-7.88 54.12,-8 66,-8 66,-10 65,-12 63.88,-13.12 62.12,-14ZM41,-14 44.12,-14 45.88,-13.12 48,-11 45.88,-13.12 44.12,-14 41,-14 39,-13 37,-11 36,-8.12 36,-5.88 37,-3 39,-1 41,0 44.12,0 45.88,-0.88 48,-3 45.88,-0.88 44.12,0 41,0 39,-1 37,-3 36,-5.88 36,-8.12 37,-11 39,-13ZM29,-14 29,0ZM4,-13 3,-11 4,-9 6.38,-7.88 11.12,-7 13,-6 14,-4 14,-2.88 13,-1 10.12,0 6.88,0 3.88,-1.12 3,-3 3.88,-1.12 4.25,-0.88 6.88,0 10.12,0 13,-1 14,-2.88 14,-4 12.88,-6.12 11.12,-7 6,-8 4,-9 3,-10.88 3.88,-12.75 4.25,-13.12 6.88,-14 10.12,-14 12.75,-13.12 13.12,-12.75 14,-11 13,-13 10.12,-14 6.88,-14ZM189.88,-21 192.12,-21 195.12,-19.88 197,-17 198,-12.25 198,-8.75 197,-4 195,-1 192.12,0 189.88,0 186.88,-1.12 185,-4 184,-8.75 184,-12.25 185,-17 187,-20ZM220.88,-21 223.12,-21 225.75,-20.12 226.12,-19.75 227,-18 226,-20 223.12,-21 220.88,-21 218,-20 216.12,-17.25 215.88,-16.62 215,-12.25 215,-6.75 216,-3 218,-1 220.88,0 222.12,0 225,-1 227.12,-3.25 228,-5.88 228,-7.12 227,-10 224.75,-12.12 222.12,-13 220.88,-13 218,-12 216,-10 215.12,-7.50 215,-7.62 215,-12.25 216,-17 218,-20ZM189.88,-21 187,-20 185,-17 184,-12.25 184,-8.75 185,-4 186.88,-1.12 189.88,0 192.12,0 195,-1 197,-4 198,-8.75 198,-12.25 197,-17 195.12,-19.88 192.12,-21ZM150,-21 150,0 150,-10 153,-13 155,-14 158.12,-14 159.88,-13.12 160.12,-12.75 161,-10.12 161,0 161,-10.12 160,-13 158.12,-14 155,-14 153,-13 150.12,-10.12 150,-10.25ZM139,-21 139,-14.12 138.88,-14 136,-14 138.88,-14 139,-13.88 139,-3.88 140,-1 142,0 144,0 142,0 140.25,-0.88 139.88,-1.25 139,-3.88 139,-13.88 139.12,-14 143,-14 139.12,-14 139,-14.12ZM130,-21 130,-11.25 129.88,-11.12 127.88,-13.12 126.12,-14 123,-14 121,-13 118.88,-10.75 118,-8.12 118,-5.88 118.88,-3.25 121,-1 123,0 126.12,0 127.88,-0.88 129.88,-2.88 130,-2.75 130,0ZM21,-21 21,0ZM111,-22 112,-21 111,-20 110,-21ZM29,-22 30,-21 29,-20 28,-21ZM111,-22 110,-21 111,-20 112,-21ZM29,-22 28,-21 29,-20 30,-21Z" stroke-width="3.37"/>
</g>
</svg>
</body></html>
